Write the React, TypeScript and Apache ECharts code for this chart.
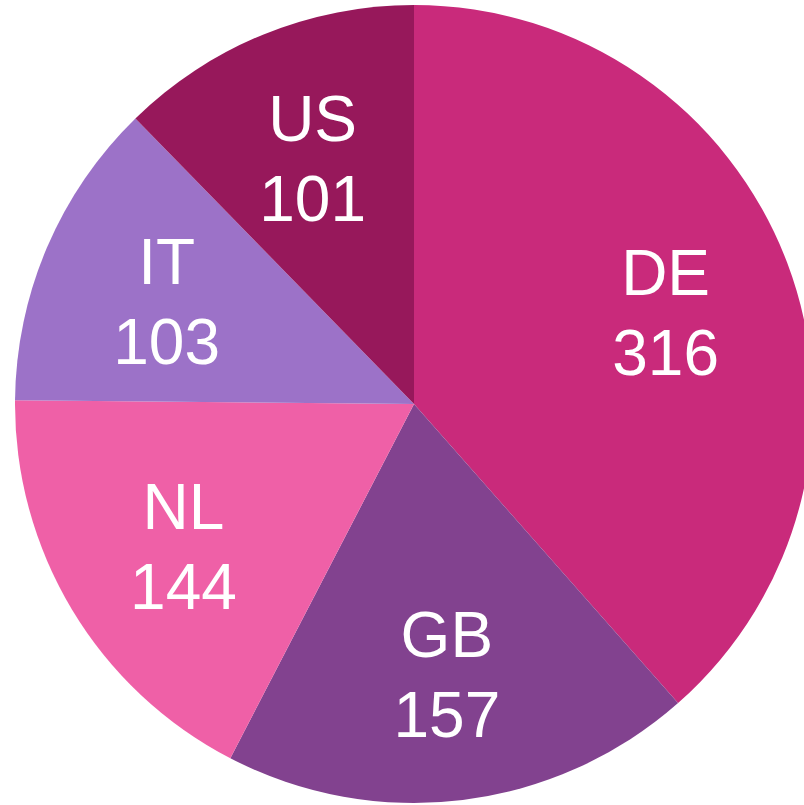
import React, { useEffect, useRef } from "react";
import * as echarts from "echarts";

const categories = ["DE", "GB", "NL", "IT", "US"];
const values = [316, 157, 144, 103, 101];
const colors = ["#C92A7B", "#82428F", "#EF60A7", "#9C72C8", "#97185B"];

export default function App() {
  const ref = useRef<HTMLDivElement>(null);
  useEffect(() => {
    if (!ref.current) return;
    const chart = echarts.init(ref.current, null, { renderer: "svg" });
    const data = categories.map((c, i) => ({
      name: c,
      value: values[i],
      itemStyle: { color: colors[i] },
    }));
    chart.setOption({
      animation: false,
      series: [
        {
          type: "pie",
          center: [414, 404],
          radius: [0, 399],
          startAngle: 90,
          clockwise: true,
          silent: true,
          label: { show: false },
          labelLine: { show: false },
          itemStyle: { borderWidth: 0 },
          data,
        },
        {
          type: "pie",
          center: [414, 408],
          radius: [133, 399],
          startAngle: 90,
          clockwise: true,
          silent: true,
          itemStyle: { color: "rgba(0,0,0,0)", borderWidth: 0 },
          label: {
            show: true,
            position: "inside",
            formatter: "{b}\n{c}",
            color: "#ffffff",
            fontFamily: "Liberation Sans, Arial, sans-serif",
            fontSize: 64,
            lineHeight: 80,
            align: "center",
          },
          labelLine: { show: false },
          data: categories.map((c, i) => ({ name: c, value: values[i] })),
        },
      ],
    });
    return () => chart.dispose();
  }, []);
  return (
    <div
      ref={ref}
      style={{ position: "absolute", left: 0, top: 0, width: 804, height: 805 }}
    />
  );
}
